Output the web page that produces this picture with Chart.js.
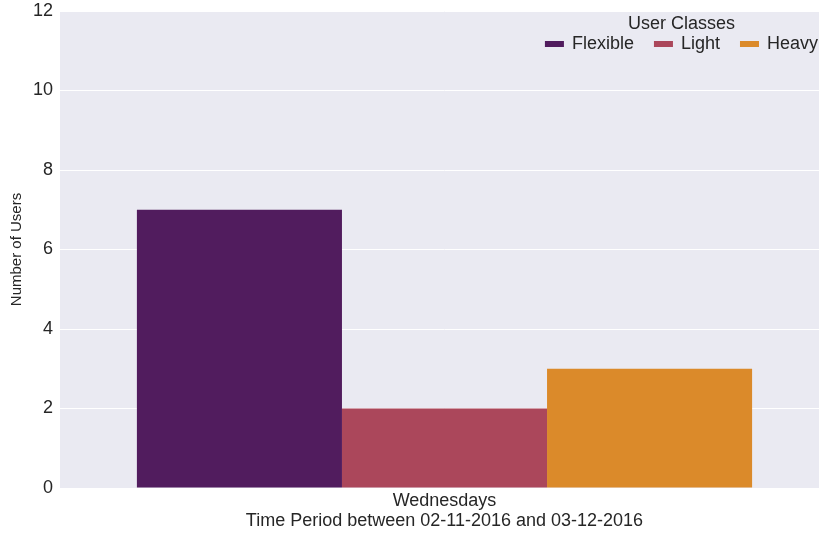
<!DOCTYPE html>
<html>
<head>
<meta charset="utf-8">
<script src="https://cdn.jsdelivr.net/npm/chart.js@4"></script>
<style>
  html, body { margin: 0; padding: 0; background: #ffffff; overflow: hidden; }
  #wrap { width: 819px; height: 534px; overflow: hidden; position: relative; }
  canvas { display: block; }
</style>
</head>
<body>
<div id="wrap"><canvas id="c" width="840" height="534"></canvas></div>
<script>
const categories = ["Wednesdays"];
const seriesNames = ["Flexible", "Light", "Heavy"];
const flexibleValues = [7];
const lightValues = [2];
const heavyValues = [3];
const yTicks = [0, 2, 4, 6, 8, 10, 12];
const colors = ["#511c5e", "#ab475b", "#db8a2a"];
const legendTitle = "User Classes";

const font = "'Liberation Sans', Arial, sans-serif";
const txt = '#262626';
const fs = 18;

const bgPlugin = {
  id: 'bg',
  beforeDraw(chart) {
    const a = chart.chartArea, ctx = chart.ctx;
    ctx.save();
    ctx.fillStyle = '#eaeaf2';
    ctx.fillRect(a.left, a.top, a.right - a.left, a.bottom - a.top);
    ctx.restore();
  }
};

// Legend drawn inside the plot area (upper right), built from the datasets
const innerLegend = {
  id: 'innerLegend',
  afterDraw(chart) {
    const a = chart.chartArea, ctx = chart.ctx;
    const ds = chart.data.datasets;
    ctx.save();
    ctx.font = fs + "px " + font;
    ctx.textBaseline = 'middle';
    const boxW = 19, boxH = 6, gap = 8, spacing = 20;
    const widths = ds.map(d => boxW + gap + ctx.measureText(d.label).width);
    const total = widths.reduce((s, w) => s + w, 0) + spacing * (ds.length - 1);
    let x = a.right - 11 - total;
    const rowY = a.top + 33;
    const titleX = x + total / 2;
    ctx.fillStyle = txt;
    ctx.textAlign = 'center';
    ctx.fillText(legendTitle, titleX, a.top + 13);
    ctx.textAlign = 'left';
    ds.forEach((d, i) => {
      ctx.fillStyle = d.backgroundColor;
      ctx.fillRect(x, rowY - boxH / 2, boxW, boxH);
      ctx.fillStyle = txt;
      ctx.fillText(d.label, x + boxW + gap, rowY);
      x += widths[i] + spacing;
    });
    ctx.restore();
  }
};

new Chart(document.getElementById('c'), {
  type: 'bar',
  data: {
    labels: categories,
    datasets: [flexibleValues, lightValues, heavyValues].map((d, i) => ({
      label: seriesNames[i],
      data: d,
      backgroundColor: colors[i],
      borderWidth: 0,
      categoryPercentage: 0.8,
      barPercentage: 1.0
    }))
  },
  options: {
    responsive: false,
    animation: false,
    layout: { padding: { top: 11, right: 11, left: 0, bottom: 0 } },
    plugins: {
      tooltip: { enabled: false },
      legend: { display: false }
    },
    scales: {
      x: {
        grid: { display: false, drawTicks: false },
        border: { display: false },
        ticks: { color: txt, font: { family: font, size: fs }, padding: 2 },
        title: { display: true, text: 'Time Period between 02-11-2016 and 03-12-2016', color: txt, font: { family: font, size: fs }, padding: { top: 0, bottom: 2 } },
        afterFit(scale) { scale.height = 46; scale.paddingLeft = 0; scale.paddingRight = 0; }
      },
      y: {
        min: 0, max: 12,
        afterBuildTicks(scale) { scale.ticks = yTicks.map(v => ({ value: v })); },
        grid: { color: '#ffffff', lineWidth: 1, drawTicks: false },
        border: { display: false },
        ticks: { color: txt, font: { family: font, size: fs }, padding: 7 },
        title: { display: true, text: 'Number of Users', color: txt, font: { family: font, size: 15 }, padding: { top: 8, bottom: 0 } },
        afterFit(scale) { scale.width = 60; scale.paddingTop = 0; scale.paddingBottom = 0; }
      }
    }
  },
  plugins: [bgPlugin, innerLegend]
});
</script>
</body>
</html>
